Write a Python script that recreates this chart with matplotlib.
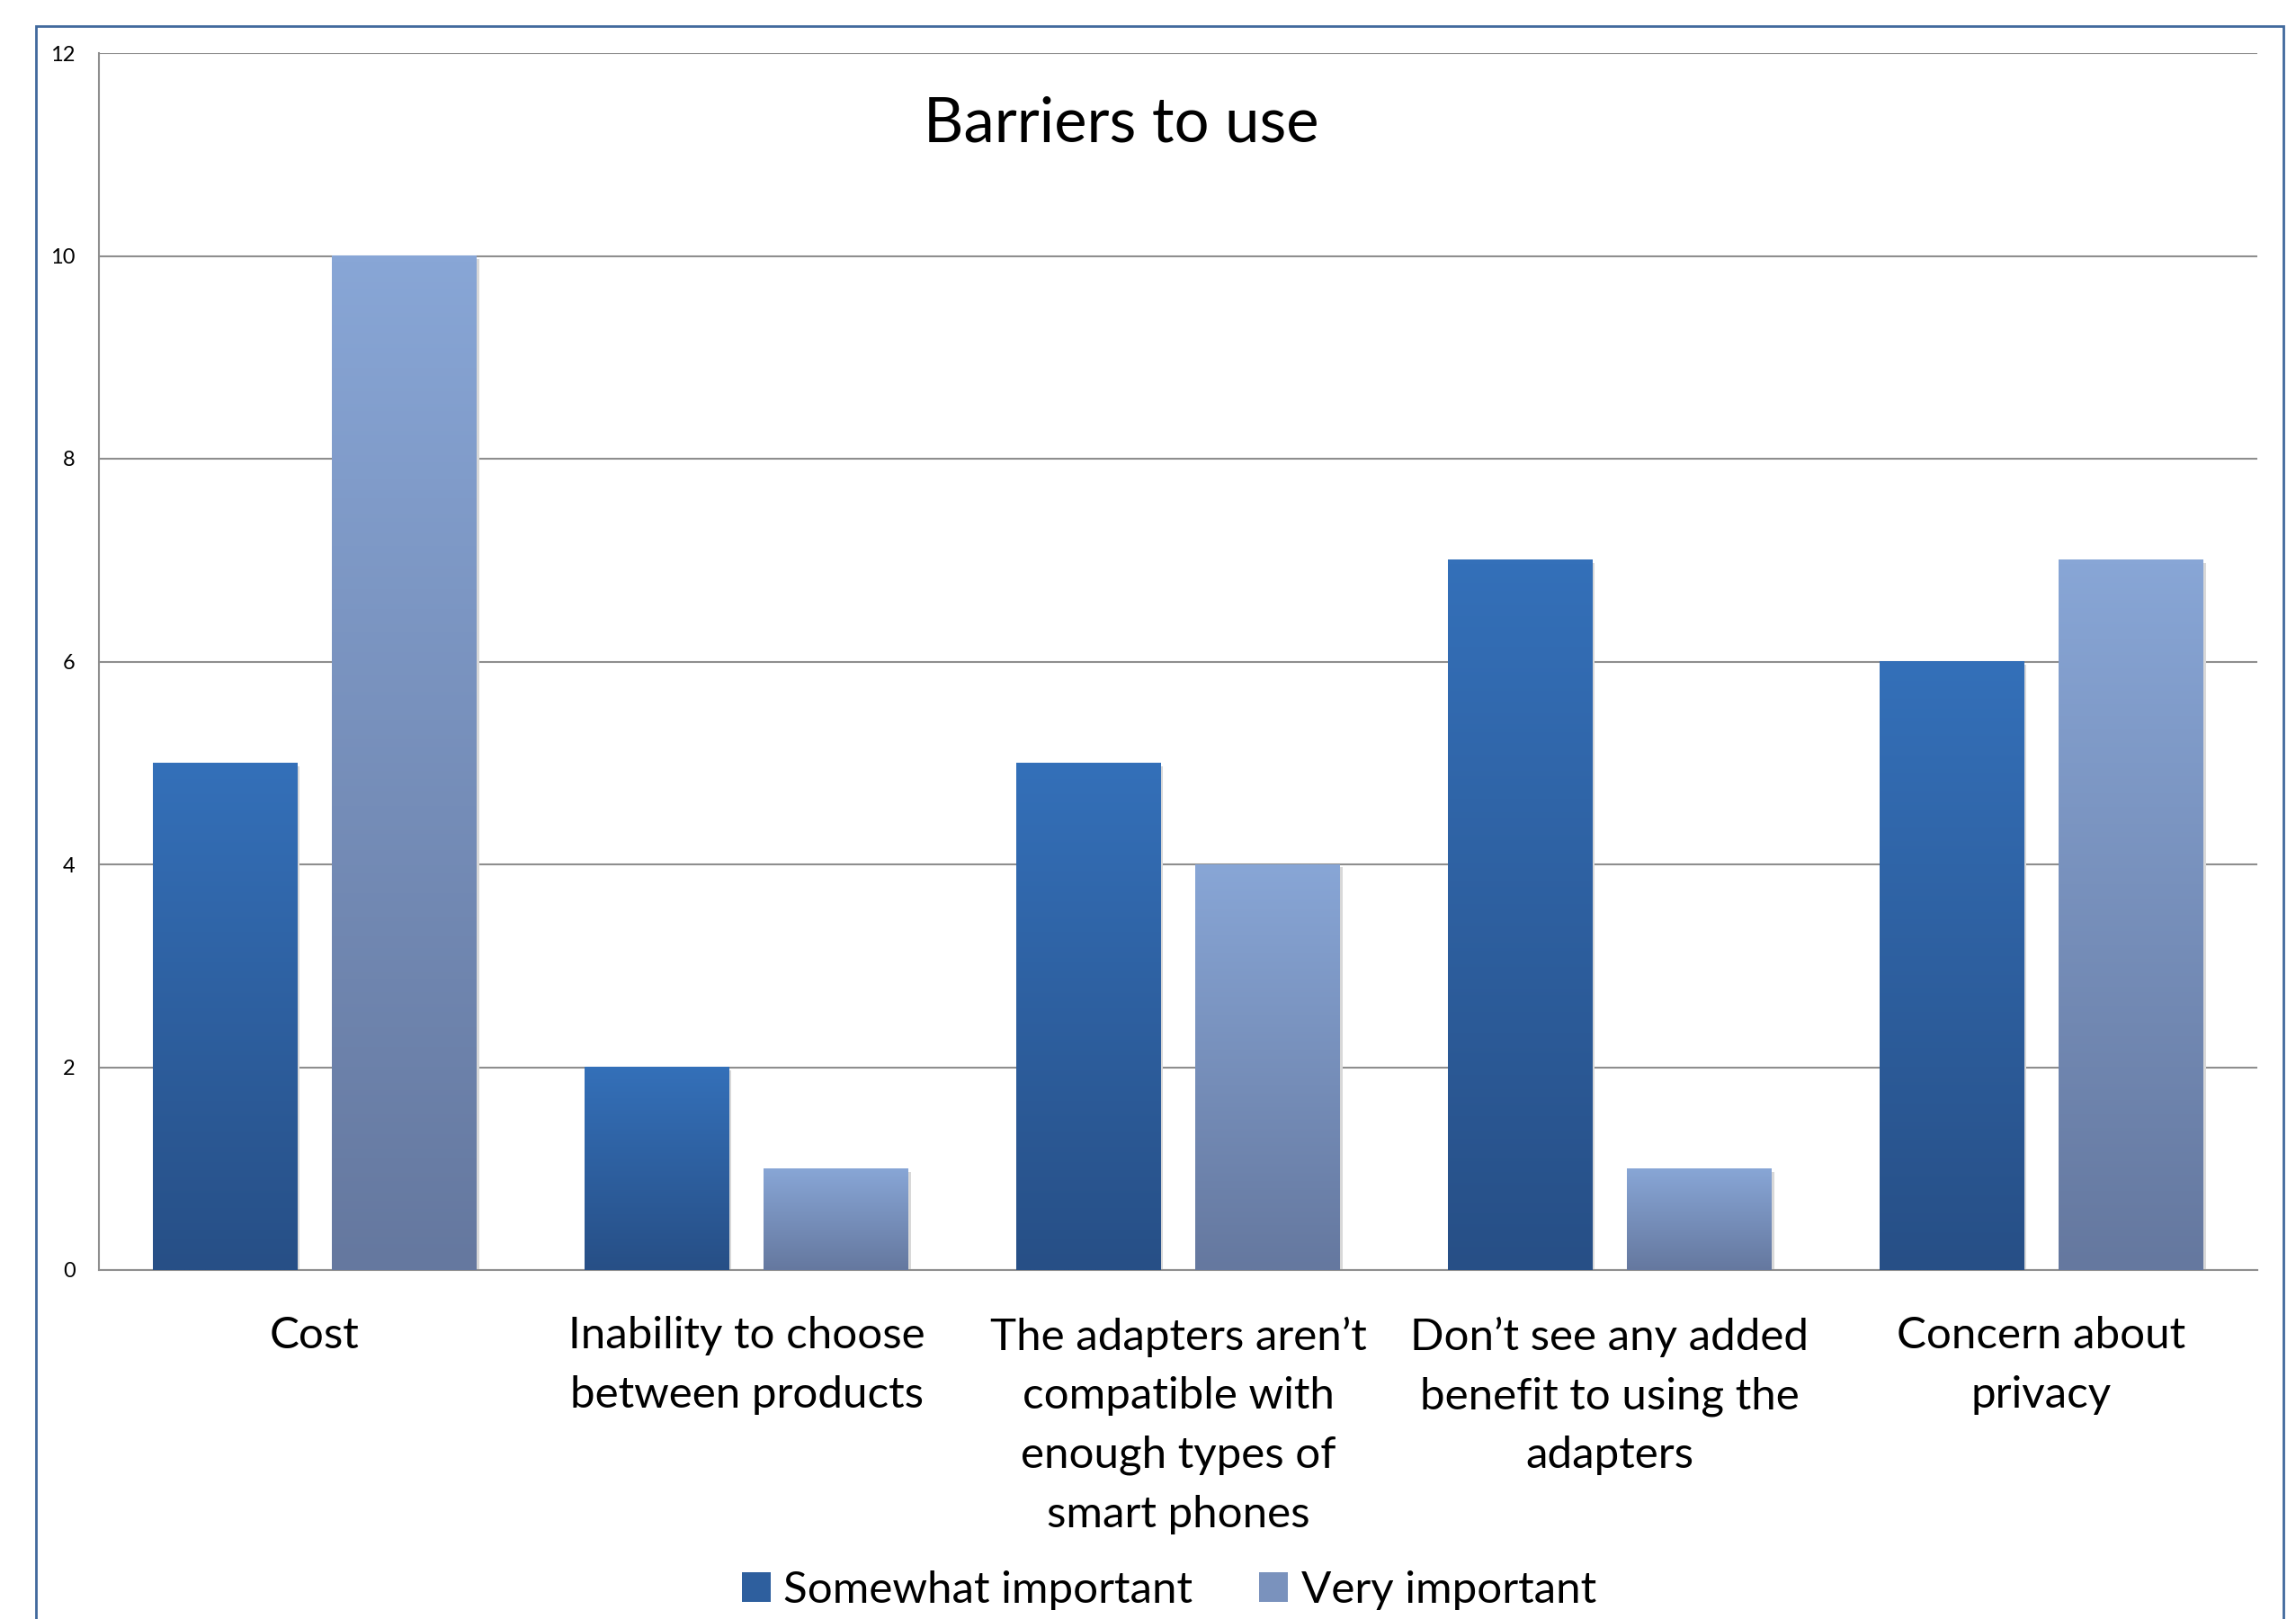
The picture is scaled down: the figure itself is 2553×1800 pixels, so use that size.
import numpy as np
import matplotlib.pyplot as plt
from matplotlib.colors import LinearSegmentedColormap
from matplotlib.patches import Rectangle

plt.rcParams['font.family'] = ['Lato', 'DejaVu Sans']

categories = [
    'Cost',
    'Inability to choose\nbetween products',
    'The adapters aren\u2019t\ncompatible with\nenough types of\nsmart phones',
    'Don\u2019t see any added\nbenefit to using the\nadapters',
    'Concern about\nprivacy',
]
somewhat = [5, 2, 5, 7, 6]
very = [10, 1, 4, 1, 7]
series_names = ['Somewhat important', 'Very important']

# gradient colours (top, bottom) per series
grad_cols = [('#3470b9', '#274f86'), ('#88a6d6', '#65789f')]
legend_cols = ['#2e5f9e', '#7a92bd']

fig = plt.figure(figsize=(25.53, 18), dpi=100)
ax = fig.add_axes([110 / 2553, 1 - 1412 / 1800, 2400 / 2553, (1412 - 59) / 1800])

x = np.arange(len(categories))
w = 0.335
off = 0.208
bars1 = ax.bar(x - off, somewhat, w, facecolor='none', edgecolor='none', zorder=3)
bars2 = ax.bar(x + off, very, w, facecolor='none', edgecolor='none', zorder=3)

grad = np.linspace(0, 1, 256).reshape(-1, 1)
for bars, (ctop, cbot) in zip([bars1, bars2], grad_cols):
    cmap = LinearSegmentedColormap.from_list('g', [cbot, ctop])
    for b in bars:
        bx, by = b.get_x(), b.get_y()
        bw, bh = b.get_width(), b.get_height()
        # faint shadow
        ax.add_patch(Rectangle((bx + 0.006, by - 0.03), bw, bh, facecolor='#d8d8d8',
                               edgecolor='none', zorder=2.5))
        ax.imshow(grad, cmap=cmap, extent=[bx, bx + bw, by, by + bh], origin='lower',
                  aspect='auto', zorder=3, interpolation='bilinear')

ax.set_xlim(-0.5, len(categories) - 0.5)
ax.set_ylim(0, 12)
ax.set_yticks(range(0, 13, 2))
ax.yaxis.grid(True, color='#8e8e8e', linewidth=1.5, zorder=0)
ax.set_axisbelow(True)
for s in ['top', 'right']:
    ax.spines[s].set_visible(False)
for s in ['left', 'bottom']:
    ax.spines[s].set_color('#8e8e8e')
    ax.spines[s].set_linewidth(1.5)
ax.tick_params(axis='y', length=0, pad=19, labelsize=17)
ax.tick_params(axis='x', length=0, pad=37, labelsize=35.5)
ax.set_xticks(x)
ax.set_xticklabels(categories, linespacing=1.6)

fig.text(1247 / 2553, 1 - 138 / 1800, 'Barriers to use', ha='center', va='center',
         fontsize=49.5)

handles = [Rectangle((0, 0), 1, 1, facecolor=c, edgecolor='none') for c in legend_cols]
fig.legend(handles, series_names, loc='center', bbox_to_anchor=(1300 / 2553, 1 - 1768 / 1800),
           ncol=2, frameon=False, fontsize=35.5, handlelength=0.65, handleheight=0.65,
           handletextpad=0.3, columnspacing=1.5)

# outer chart border
fig.add_artist(Rectangle((40 / 2553, -0.05), 2499 / 2553, 1.05 - 29 / 1800,
                         transform=fig.transFigure, facecolor='none',
                         edgecolor='#41699d', linewidth=2))

fig.savefig('out.png', dpi=100)
